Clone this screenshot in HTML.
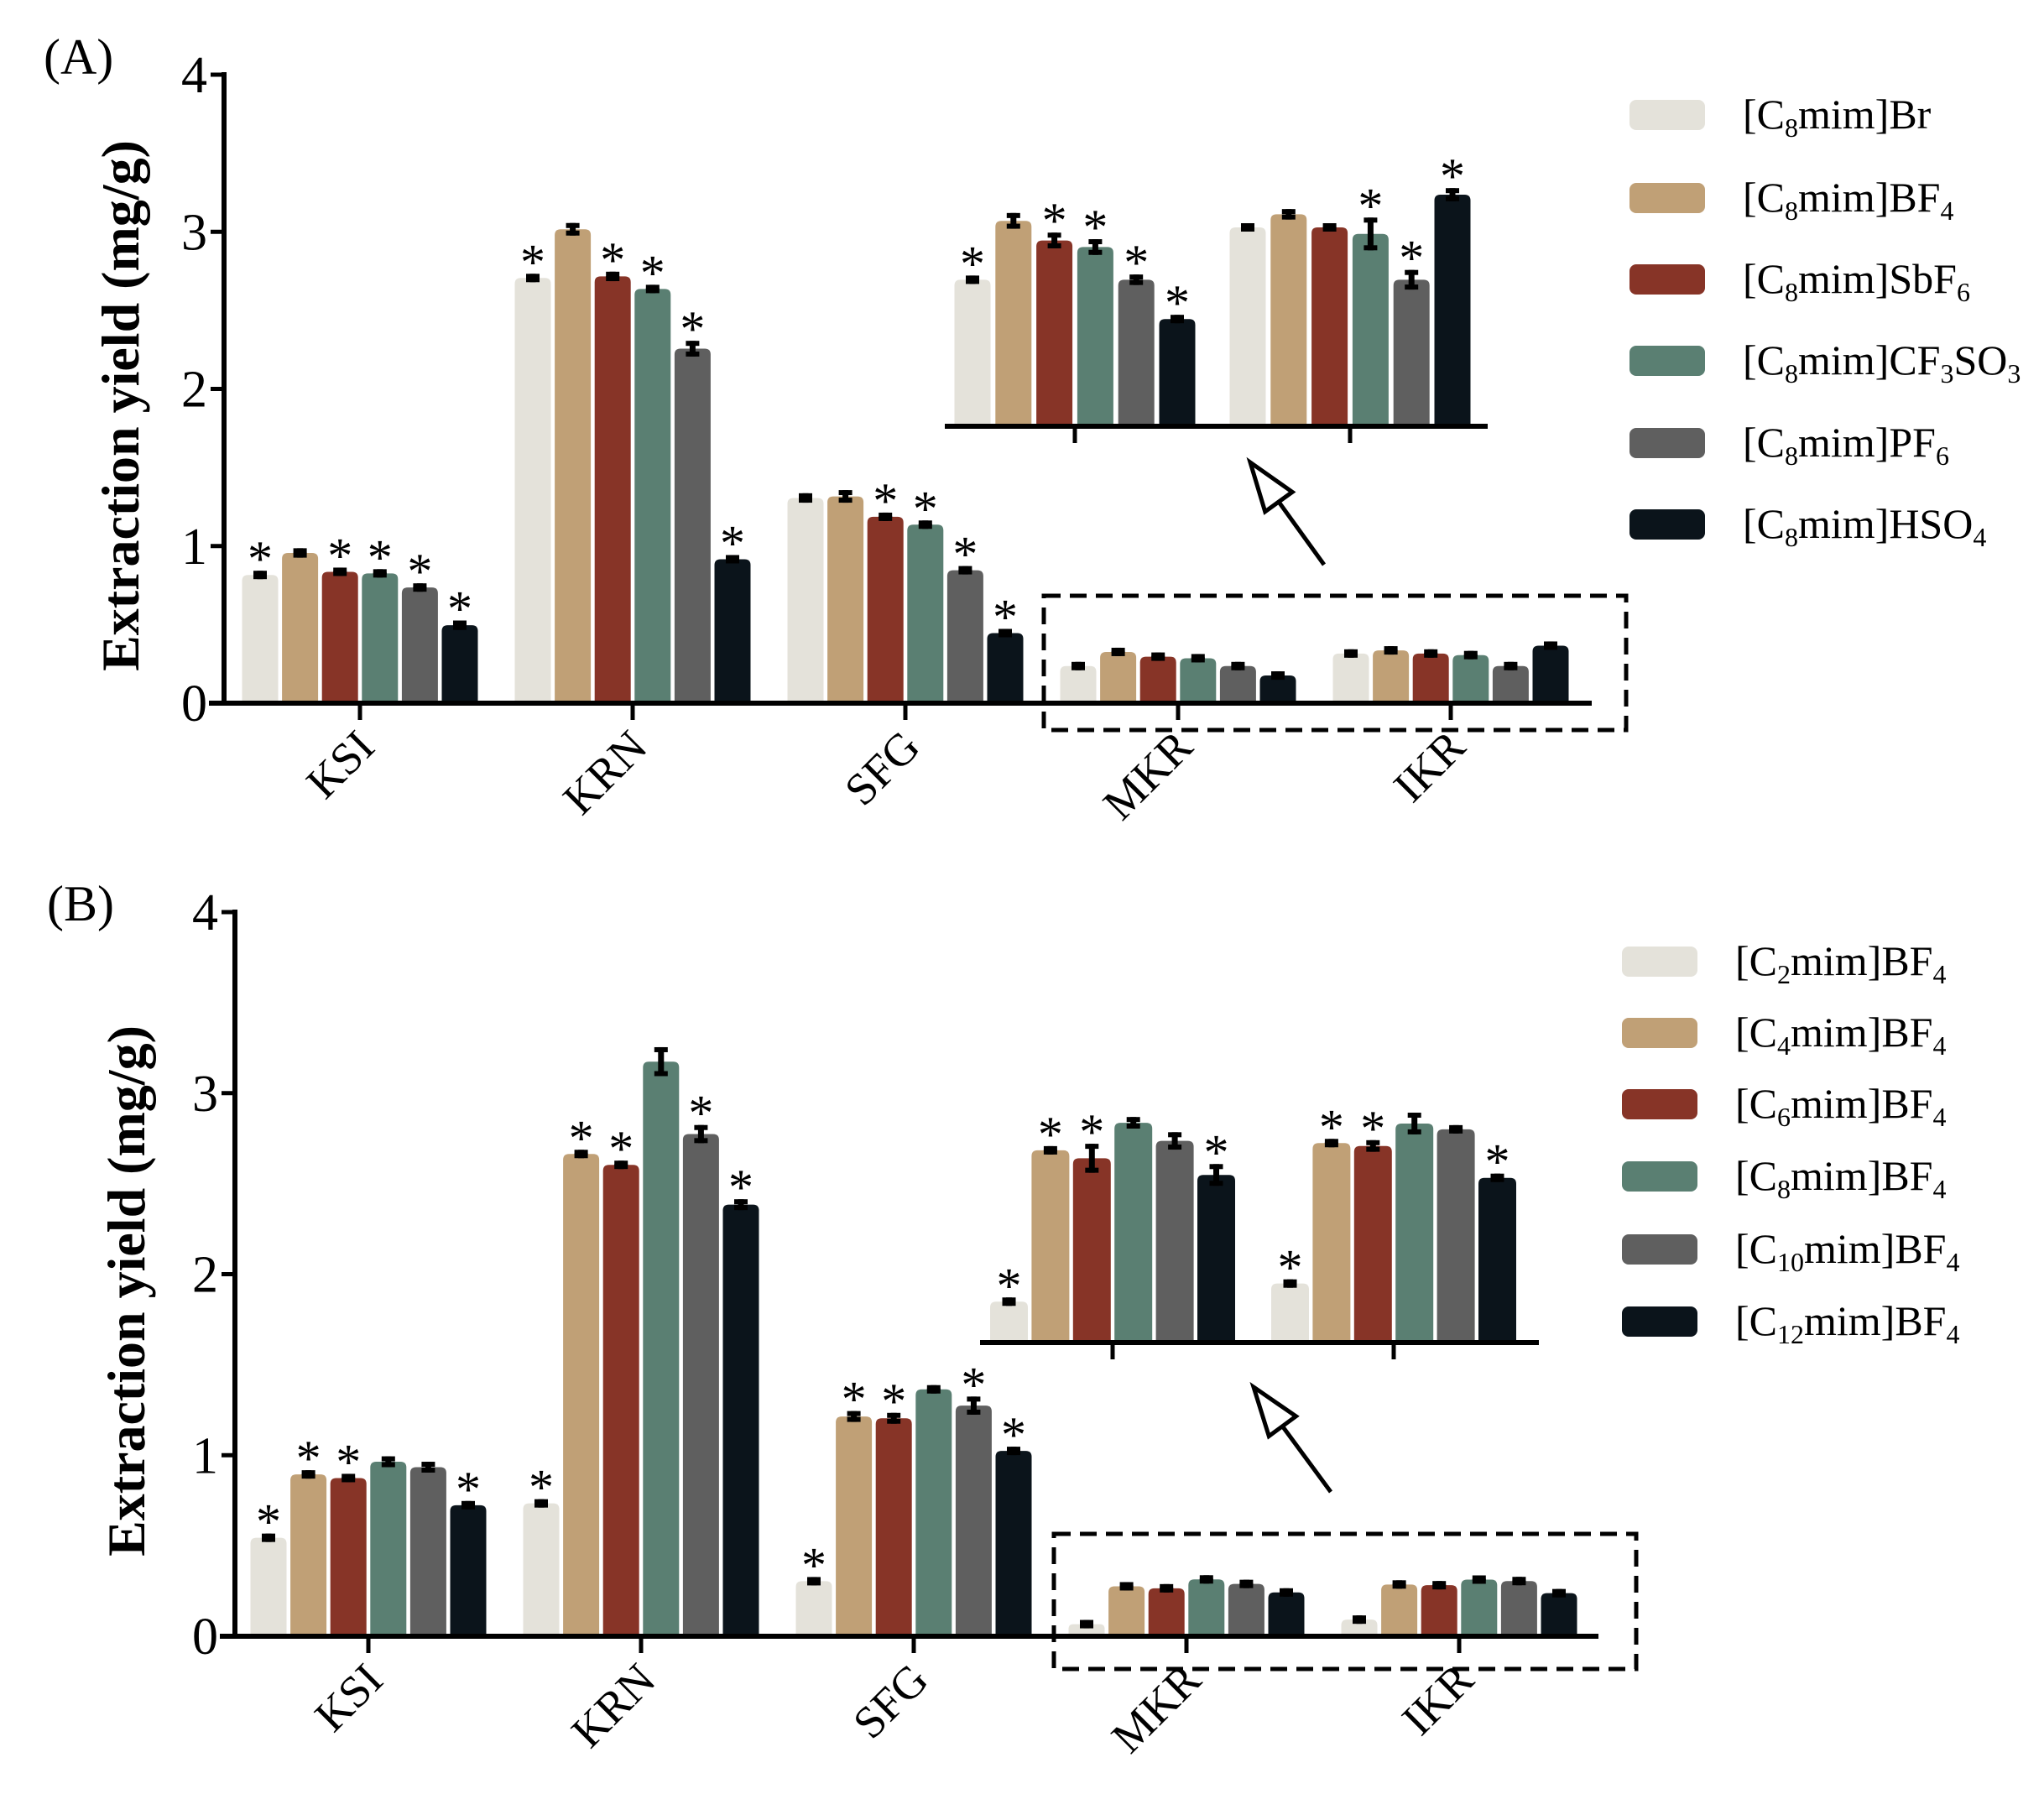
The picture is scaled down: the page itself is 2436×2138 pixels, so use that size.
<!DOCTYPE html>
<html><head><meta charset="utf-8"><style>
html,body{margin:0;padding:0;background:#fff;}
svg, svg text{font-family:"Liberation Serif","Times New Roman",serif;}
</style></head><body>
<svg id="fig" width="2436" height="2133" viewBox="0 0 2436 2133" xmlns="http://www.w3.org/2000/svg" font-family="Liberation Serif, Times New Roman, serif"></svg>
<script>
// ---- shared ----
const categories = ["KSI","KRN","SFG","MKR","IKR"];
const yTicks = [0,1,2,3,4];
const colors = ["#e4e2da","#c0a076","#873427","#5a7f72","#5f5f5f","#0b141b"];

// ---- panel A data ----
const seriesA = ["[C8mim]Br","[C8mim]BF4","[C8mim]SbF6","[C8mim]CF3SO3","[C8mim]PF6","[C8mim]HSO4"];
const legendA = [["[C","8","mim]Br",""],["[C","8","mim]BF","4"],["[C","8","mim]SbF","6"],["[C","8","mim]CF","3","SO","3"],["[C","8","mim]PF","6"],["[C","8","mim]HSO","4"]];
const valuesA = [
  [0.80,0.94,0.82,0.81,0.72,0.48],
  [2.69,3.00,2.70,2.62,2.24,0.90],
  [1.29,1.30,1.17,1.12,0.83,0.43],
  [0.22,0.31,0.28,0.27,0.22,0.16],
  [0.30,0.32,0.30,0.29,0.22,0.35]
];
const errorsA = [
  [0.01,0.03,0.02,0.02,0.01,0.03],
  [0.02,0.04,0.03,0.02,0.05,0.02],
  [0.03,0.04,0.01,0.01,0.02,0.02],
  [0.004,0.012,0.012,0.012,0.008,0.006],
  [0.004,0.008,0.006,0.025,0.015,0.01]
];
const starsA = [
  [1,0,1,1,1,1],
  [1,0,1,1,1,1],
  [0,0,1,1,1,1],
  [1,0,1,1,1,1],
  [0,0,0,1,1,1]
];
// ---- panel B data ----
const seriesB = ["[C2mim]BF4","[C4mim]BF4","[C6mim]BF4","[C8mim]BF4","[C10mim]BF4","[C12mim]BF4"];
const legendB = [["[C","2","mim]BF","4"],["[C","4","mim]BF","4"],["[C","6","mim]BF","4"],["[C","8","mim]BF","4"],["[C","10","mim]BF","4"],["[C","12","mim]BF","4"]];
const valuesB = [
  [0.53,0.88,0.86,0.95,0.92,0.71],
  [0.72,2.65,2.59,3.16,2.76,2.37],
  [0.29,1.20,1.19,1.35,1.26,1.01],
  [0.053,0.262,0.251,0.300,0.275,0.228],
  [0.078,0.272,0.268,0.299,0.291,0.224]
];
const errorsB = [
  [0.01,0.02,0.02,0.03,0.03,0.02],
  [0.01,0.02,0.02,0.08,0.05,0.03],
  [0.01,0.03,0.03,0.02,0.05,0.01],
  [0.004,0.004,0.02,0.008,0.012,0.015],
  [0.004,0.004,0.008,0.015,0.004,0.004]
];
const starsB = [
  [1,1,1,0,0,1],
  [1,1,1,0,1,1],
  [1,1,1,0,1,1],
  [1,1,1,0,0,1],
  [1,1,1,0,0,1]
];

const NS="http://www.w3.org/2000/svg";
const svg=document.getElementById('fig');
function mk(tag,attrs,parent){const e=document.createElementNS(NS,tag);for(const k in attrs)e.setAttribute(k,attrs[k]);(parent||svg).appendChild(e);return e;}
const FF='Liberation Serif, Times New Roman, serif';

function barShape(g,x,w,yTop,yBase,fill){
  const r=Math.min(7,(yBase-yTop)/2);
  const d=`M${x},${yBase} L${x},${yTop+r} Q${x},${yTop} ${x+r},${yTop} L${x+w-r},${yTop} Q${x+w},${yTop} ${x+w},${yTop+r} L${x+w},${yBase} Z`;
  return mk('path',{d:d,fill:fill},g);
}
function errBar(g,cx,yc,half){
  half=Math.max(half,5);
  const e=mk('g',{},g);
  
  
  mk('rect',{x:cx-3.5,y:yc-half,width:7,height:2*half,fill:'#000'},e);
  mk('rect',{x:cx-8,y:yc-half,width:16,height:6,fill:'#000'},e);
  mk('rect',{x:cx-8,y:yc+half-6,width:16,height:6,fill:'#000'},e);
  return yc-half;
}
function star(g,cx,y){
  const t=mk('text',{x:cx,y:y+8,'text-anchor':'middle','font-size':60,'font-family':FF,fill:'#000'},g);
  
  
  t.textContent='*';
}

function drawBars(g,vals,errs,stars,catIdx,tickX,baseY,scale,pitch,bw){
  const n=vals.length;
  for(let s=0;s<n;s++){
    const cx=tickX+(s-(n-1)/2)*pitch;
    const yTop=baseY-vals[s]*scale;
    const b=barShape(g,cx-bw/2,bw,yTop,baseY,colors[s]);
    
    
    const top=errBar(g,cx,yTop,errs[s]*scale);
    if(stars&&stars[s]) star(g,cx,top-2);
  }
}

function drawPanel(P){
  const g=mk('g',{});
  
  
  const yS=v=>P.y0-(v/4)*(P.y0-P.y4);
  const unit=(P.y0-P.y4)/4;
  const xS=i=>P.tick0+i*P.tickStep;
  const lab=mk('text',{x:P.labX,y:P.labY,'font-size':60,'font-family':FF},g);
  
  
  lab.textContent=P.label;
  for(let c=0;c<categories.length;c++){
    drawBars(g,P.values[c],P.errors[c],c<3?P.stars[c]:null,c,xS(c),P.y0-3,unit,47.6,43);
  }
  const ya=mk('line',{x1:P.axX,y1:P.y4-3,x2:P.axX,y2:P.y0+3,stroke:'#000','stroke-width':6},g);
  
  
  const xa=mk('line',{x1:P.axX-18,y1:P.y0,x2:P.xEnd,y2:P.y0,stroke:'#000','stroke-width':6},g);
  
  
  yTicks.forEach(t=>{
    const y=yS(t);
    mk('line',{x1:P.axX-16,y1:y,x2:P.axX,y2:y,stroke:'#000','stroke-width':5},g);
    const tl=mk('text',{x:P.axX-20,y:y+21,'text-anchor':'end','font-size':62,'font-family':FF},g);
    
    
    tl.textContent=t;
  });
  categories.forEach((c,i)=>{
    const x=xS(i);
    mk('line',{x1:x,y1:P.y0,x2:x,y2:P.y0+20,stroke:'#000','stroke-width':5},g);
    const tx=x+20, ty=P.y0+55;
    const t=mk('text',{x:tx,y:ty,'text-anchor':'end','font-size':54,'font-family':FF,transform:`rotate(-45 ${tx} ${ty})`},g);
    
    
    t.textContent=c;
  });
  const cy=(P.y0+P.y4)/2+20;
  const yt=mk('text',{x:P.titleX,y:cy,'text-anchor':'middle','font-size':64,'font-weight':'bold','font-family':FF,transform:`rotate(-90 ${P.titleX} ${cy})`},g);
  
  
  yt.textContent='Extraction yield (mg/g)';
  const box=mk('rect',{x:P.box[0],y:P.box[1],width:P.box[2]-P.box[0],height:P.box[3]-P.box[1],fill:'none',stroke:'#000','stroke-width':5,'stroke-dasharray':'20 11'},g);
  
  
  const ig=mk('g',{},g);
  
  
  for(let k=0;k<2;k++){
    const c=3+k;
    drawBars(ig,P.values[c],P.errors[c],P.stars[c],c,P.inTicks[k],P.inY-3,P.inScale,P.inPitch,P.inBw);
    mk('line',{x1:P.inTicks[k],y1:P.inY,x2:P.inTicks[k],y2:P.inY+20,stroke:'#000','stroke-width':5},ig);
  }
  const ia=mk('line',{x1:P.inX0,y1:P.inY,x2:P.inX1,y2:P.inY,stroke:'#000','stroke-width':6},ig);
  
  
  const [ax0,ay0,ax1,ay1]=P.arrow;
  const ang=Math.atan2(ay1-ay0,ax1-ax0);
  const L=58,W=20;
  const bx=ax1-L*Math.cos(ang), by=ay1-L*Math.sin(ang);
  const px=-Math.sin(ang), py=Math.cos(ang);
  const ar=mk('g',{},g);
  
  
  mk('line',{x1:ax0,y1:ay0,x2:bx+8*Math.cos(ang),y2:by+8*Math.sin(ang),stroke:'#000','stroke-width':5},ar);
  mk('polygon',{points:`${ax1},${ay1} ${bx+W*px},${by+W*py} ${bx-W*px},${by-W*py}`,fill:'#fff',stroke:'#000','stroke-width':5},ar);
  const lg=mk('g',{},g);
  
  
  P.legend.forEach((parts,i)=>{
    const y=P.legY[i];
    const e=mk('g',{},lg);
    
    
    mk('rect',{x:P.legX,y:y-18,width:90,height:36,rx:8,fill:colors[i]},e);
    const t=mk('text',{x:P.legX+135,y:y+16,'font-size':50,'font-family':FF},e);
    parts.forEach((p,j)=>{
      if(!p)return;
      const ts=mk('tspan',{},t);
      if(j%2===1){ts.setAttribute('font-size','32');ts.setAttribute('dy','10');}
      else if(j>0){ts.setAttribute('dy','-10');}
      ts.textContent=p;
    });
  });
}

drawPanel({name:'panel-a',label:'(A)',labX:52,labY:88,values:valuesA,errors:errorsA,stars:starsA,
  axX:267,y4:89,y0:838,tick0:429,tickStep:325,xEnd:1897,titleX:165,
  box:[1244,710,1938,870],inTicks:[1281,1609],inY:508,inX0:1126,inX1:1773,inScale:780,inPitch:48.8,inBw:43,
  arrow:[1578,673,1490,551],legend:legendA,legX:1942,legY:[137,236,333,430,528,625]});
drawPanel({name:'panel-b',label:'(B)',labX:56,labY:1097,values:valuesB,errors:errorsB,stars:starsB,
  axX:280,y4:1087,y0:1950,tick0:439,tickStep:325,xEnd:1905,titleX:172,
  box:[1256,1828,1950,1989],inTicks:[1326,1661],inY:1600,inX0:1168,inX1:1834,inScale:863,inPitch:49.4,inBw:45,
  arrow:[1586,1778,1494,1653],legend:legendB,legX:1933,legY:[1146,1231,1316,1402,1489,1575]});
</script>
</body></html>
